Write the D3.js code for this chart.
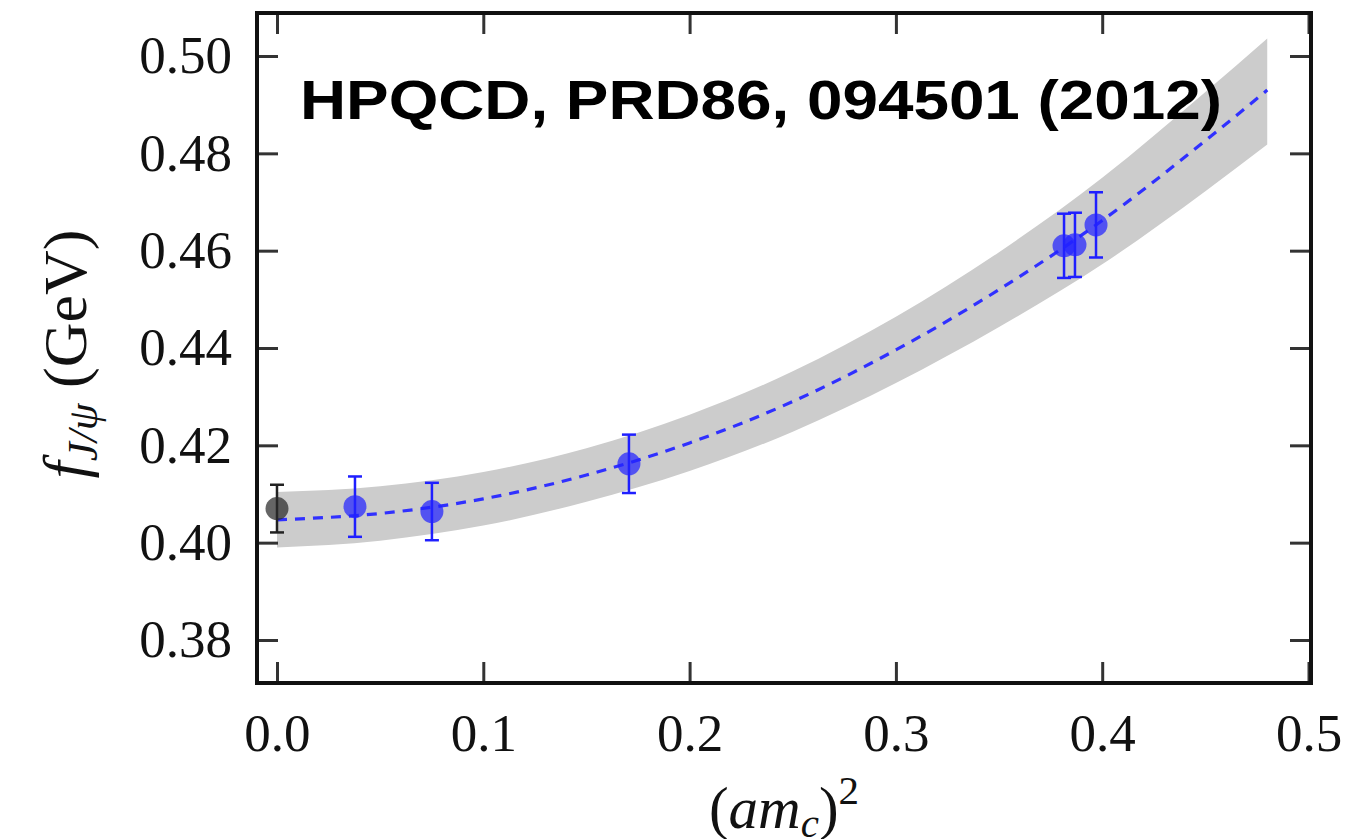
<!DOCTYPE html>
<html>
<head>
<meta charset="utf-8">
<script src="https://cdn.jsdelivr.net/npm/d3@7"></script>
<style>
  body { margin: 0; background: #fff; }
</style>
</head>
<body>
<script>

const width = 1349;
const height = 839;

// frame of the plot, in page pixels
const frame = {left: 257, top: 13, right: 1311, bottom: 683};

// lattice points (blue) and continuum value (black)
const pointX = [0.0378, 0.0751, 0.1706, 0.3815, 0.3868, 0.3970];
const pointY = [0.4074, 0.4064, 0.4162, 0.4610, 0.4612, 0.4653];
const pointErr = [0.0062, 0.0059, 0.0060, 0.0066, 0.0066, 0.0067];

const contX = [0.0];
const contY = [0.4070];
const contErr = [0.0049];

// fit curve and its error band
const fitX = [0, 0.05, 0.1, 0.15, 0.2, 0.25, 0.3, 0.35, 0.4, 0.45, 0.48];
const fitY = [0.4047, 0.4060, 0.4090, 0.4139, 0.4205, 0.4290, 0.4396, 0.4520, 0.4662, 0.4826, 0.4930];
const bandLo = [0.3990, 0.4004, 0.4035, 0.4084, 0.4147, 0.4228, 0.4328, 0.4443, 0.4572, 0.4722, 0.4818];
const bandHi = [0.4104, 0.4116, 0.4145, 0.4194, 0.4263, 0.4352, 0.4464, 0.4597, 0.4750, 0.4926, 0.5036];

const xTicks = [0.0, 0.1, 0.2, 0.3, 0.4, 0.5];
const yTicks = [0.38, 0.40, 0.42, 0.44, 0.46, 0.48, 0.50];

const title = "HPQCD, PRD86, 094501 (2012)";

const x = d3.scaleLinear()
    .domain([-0.00969, 0.50121])
    .range([frame.left, frame.right]);

const y = d3.scaleLinear()
    .domain([0.37116, 0.50884])
    .range([frame.bottom, frame.top]);

const svg = d3.select("body")
    .append("svg")
    .attr("width", width)
    .attr("height", height);

const serif = "'Liberation Serif', 'Times New Roman', serif";

// band
const fit = fitX.map(function(d, i){ return {x: d, y: fitY[i], lo: bandLo[i], hi: bandHi[i]}; });

svg.append("path")
    .datum(fit)
    .attr("fill", "#cccccc")
    .attr("d", d3.area()
        .x(function(d){ return x(d.x); })
        .y0(function(d){ return y(d.lo); })
        .y1(function(d){ return y(d.hi); })
        .curve(d3.curveMonotoneX));

svg.append("path")
    .datum(fit)
    .attr("fill", "none")
    .attr("stroke", "#3030ff")
    .attr("stroke-width", 3.2)
    .attr("stroke-dasharray", "10,8")
    .attr("d", d3.line()
        .x(function(d){ return x(d.x); })
        .y(function(d){ return y(d.y); })
        .curve(d3.curveMonotoneX));

function drawPoints(xs, ys, errs, color, fill) {
    const data = xs.map(function(d, i){ return {x: d, y: ys[i], e: errs[i]}; });
    const g = svg.append("g");
    const eb = g.selectAll("g.eb")
        .data(data)
        .join("g")
        .attr("class", "eb")
        .attr("stroke", color)
        .attr("stroke-width", 2.5);
    eb.append("line")
        .attr("x1", function(d){ return x(d.x); })
        .attr("x2", function(d){ return x(d.x); })
        .attr("y1", function(d){ return y(d.y - d.e); })
        .attr("y2", function(d){ return y(d.y + d.e); });
    eb.append("line")
        .attr("x1", function(d){ return x(d.x) - 7; })
        .attr("x2", function(d){ return x(d.x) + 7; })
        .attr("y1", function(d){ return y(d.y + d.e); })
        .attr("y2", function(d){ return y(d.y + d.e); });
    eb.append("line")
        .attr("x1", function(d){ return x(d.x) - 7; })
        .attr("x2", function(d){ return x(d.x) + 7; })
        .attr("y1", function(d){ return y(d.y - d.e); })
        .attr("y2", function(d){ return y(d.y - d.e); });
    g.selectAll("circle")
        .data(data)
        .join("circle")
        .attr("cx", function(d){ return x(d.x); })
        .attr("cy", function(d){ return y(d.y); })
        .attr("r", 11.5)
        .attr("fill", fill)
        .attr("fill-opacity", 0.72);
}

drawPoints(contX, contY, contErr, "#222222", "#2a2a2a");
drawPoints(pointX, pointY, pointErr, "#1f1fff", "#2222ff");

// axes, ticks pointing inward on all four sides
function styleAxis(g) {
    g.select(".domain").remove();
    g.selectAll(".tick line").attr("stroke", "#333").attr("stroke-width", 3);
    g.selectAll("text")
        .attr("fill", "#111")
        .style("font-family", serif)
        .style("font-size", "53px");
}

svg.append("g")
    .attr("transform", "translate(0," + frame.bottom + ")")
    .call(d3.axisBottom(x).tickValues(xTicks).tickFormat(d3.format(".1f")).tickSize(-21).tickPadding(30))
    .call(styleAxis);

svg.append("g")
    .attr("transform", "translate(0," + frame.top + ")")
    .call(d3.axisTop(x).tickValues(xTicks).tickFormat("").tickSize(-21))
    .call(styleAxis);

svg.append("g")
    .attr("transform", "translate(" + frame.left + ",0)")
    .call(d3.axisLeft(y).tickValues(yTicks).tickFormat(d3.format(".2f")).tickSize(-21).tickPadding(25))
    .call(styleAxis);

svg.append("g")
    .attr("transform", "translate(" + frame.right + ",0)")
    .call(d3.axisRight(y).tickValues(yTicks).tickFormat("").tickSize(-21))
    .call(styleAxis);

// frame
svg.append("rect")
    .attr("x", frame.left)
    .attr("y", frame.top)
    .attr("width", frame.right - frame.left)
    .attr("height", frame.bottom - frame.top)
    .attr("fill", "none")
    .attr("stroke", "#111")
    .attr("stroke-width", 4);

// axis titles
const xt = svg.append("text")
    .attr("x", (frame.left + frame.right) / 2)
    .attr("y", 828)
    .attr("text-anchor", "middle")
    .style("font-family", serif)
    .style("font-size", "59px")
    .attr("fill", "#111");
xt.append("tspan").text("(");
xt.append("tspan").style("font-style", "italic").text("am");
xt.append("tspan").style("font-style", "italic").style("font-size", "41px").attr("dy", 9).text("c");
xt.append("tspan").attr("dy", -9).text(")");
xt.append("tspan").style("font-size", "41px").attr("dy", -24).text("2");

const yt = svg.append("text")
    .attr("transform", "translate(86," + ((frame.top + frame.bottom) / 2 + 6) + ") rotate(-90)")
    .attr("text-anchor", "middle")
    .style("font-family", serif)
    .style("font-size", "62px")
    .attr("fill", "#111");
yt.append("tspan").style("font-style", "italic").text("f");
yt.append("tspan").style("font-style", "italic").style("font-size", "43px").attr("dy", 11).text("J/ψ");
yt.append("tspan").attr("dy", -11).text(" (GeV)");

// reference label
svg.append("text")
    .attr("x", 300)
    .attr("y", 119)
    .attr("textLength", 922)
    .attr("lengthAdjust", "spacingAndGlyphs")
    .style("font-family", "'Liberation Sans', Arial, Helvetica, sans-serif")
    .style("font-weight", "bold")
    .style("font-size", "56px")
    .attr("fill", "#000")
    .text(title);

</script>
</body>
</html>
